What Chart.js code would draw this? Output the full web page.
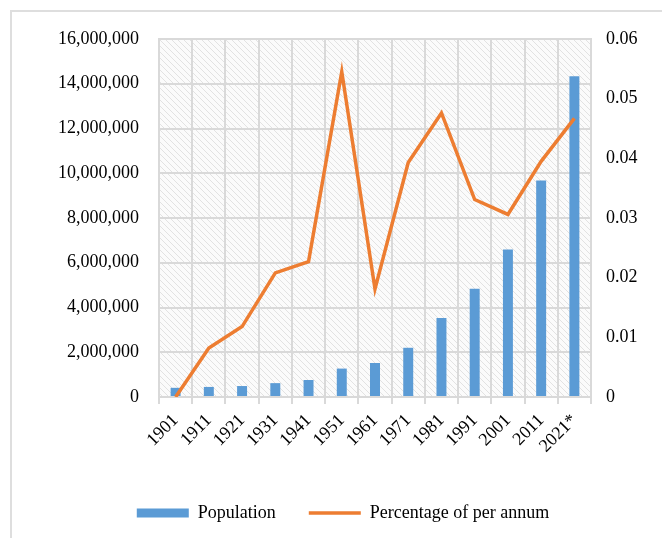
<!DOCTYPE html>
<html>
<head>
<meta charset="utf-8">
<script src="https://cdn.jsdelivr.net/npm/chart.js@4/dist/chart.umd.min.js"></script>
<style>
  html, body { margin: 0; padding: 0; background: #fff; overflow: hidden; }
  #wrap { position: relative; width: 662px; height: 538px; }
  #frame { position: absolute; left: 10px; top: 10px; width: 720px; height: 600px; border: 2px solid #dedede; }
  canvas { position: absolute; left: 0; top: 0; }
</style>
</head>
<body>
<div id="wrap">
  <div id="frame"></div>
  <canvas id="popChart" width="662" height="538"></canvas>
</div>
<script>
// Datos del gráfico
const years = ['1901', '1911', '1921', '1931', '1941', '1951', '1961', '1971', '1981', '1991', '2001', '2011', '2021*'];
const population = [410000, 450000, 490000, 620000, 760000, 1270000, 1520000, 2200000, 3530000, 4840000, 6590000, 9680000, 14340000];
const growthRate = [0, 0.0082, 0.0118, 0.0208, 0.0227, 0.0545, 0.0181, 0.0393, 0.0476, 0.0331, 0.0306, 0.0395, 0.0467];
const leftTicks = [0, 2000000, 4000000, 6000000, 8000000, 10000000, 12000000, 14000000, 16000000];
const rightTicks = [0, 0.01, 0.02, 0.03, 0.04, 0.05, 0.06];

const font = { family: '"Liberation Serif", "Times New Roman", serif', size: 18 };
const gridGrey = '#d9d9d9';

// Patrón rayado del fondo del área del gráfico
function makeHatch() {
    const c = document.createElement('canvas');
    c.width = 6; c.height = 6;
    const g = c.getContext('2d');
    g.fillStyle = '#fbfbfb';
    g.fillRect(0, 0, 6, 6);
    g.strokeStyle = '#e2e2e2';
    g.lineWidth = 1;
    g.beginPath();
    g.moveTo(-1, -1); g.lineTo(7, 7);
    g.moveTo(-4, 2); g.lineTo(4, 10);
    g.moveTo(2, -4); g.lineTo(10, 4);
    g.stroke();
    return g.createPattern(c, 'repeat');
}

const hatchPlugin = {
    id: 'hatch',
    beforeDraw(chart) {
        const a = chart.chartArea;
        const ctx = chart.ctx;
        ctx.save();
        ctx.fillStyle = makeHatch();
        ctx.fillRect(a.left, a.top, a.right - a.left, a.bottom - a.top);
        ctx.restore();
    }
};

// Desplazar un poco la leyenda hacia la derecha, como en el original
const legendShift = {
    id: 'legendShift',
    afterLayout(chart) {
        chart.legend.left += 12;
        chart.legend.right += 12;
    }
};

let ctx = document.getElementById('popChart').getContext('2d');
let chart = new Chart(ctx, {
    type: 'bar',
    data: {
        labels: years,
        datasets: [{
            label: 'Population',
            data: population,
            backgroundColor: '#5b9bd5',
            borderWidth: 0,
            categoryPercentage: 1,
            barPercentage: 0.3,
            yAxisID: 'y',
            order: 2,
            pointStyle: 'rect'
        }, {
            type: 'line',
            label: 'Percentage of per annum',
            data: growthRate,
            borderColor: '#ed7d31',
            backgroundColor: '#ed7d31',
            borderWidth: 3.5,
            pointRadius: 0,
            tension: 0,
            yAxisID: 'y1',
            order: 1,
            pointStyle: 'line'
        }]
    },
    options: {
        responsive: false,
        animation: false,
        layout: { padding: { top: 39, bottom: 6, left: 0, right: 0 } },
        plugins: {
            tooltip: { enabled: false },
            legend: {
                position: 'bottom',
                labels: {
                    font: font,
                    color: '#000',
                    usePointStyle: true,
                    pointStyleWidth: 52,
                    boxHeight: 9,
                    padding: 33,
                    sort: (a, b) => a.datasetIndex - b.datasetIndex
                }
            }
        },
        scales: {
            x: {
                grid: { color: gridGrey, lineWidth: 2, tickLength: 7, tickColor: gridGrey },
                border: { color: gridGrey, width: 2 },
                ticks: { font: font, color: '#000', minRotation: 45, maxRotation: 45, padding: 6, autoSkip: false },
                afterFit(scale) { scale.height = 74; }
            },
            y: {
                position: 'left',
                min: 0,
                max: 16000000,
                afterBuildTicks(scale) { scale.ticks = leftTicks.map(v => ({ value: v })); },
                grid: { color: gridGrey, lineWidth: 2, drawTicks: false },
                border: { color: gridGrey, width: 2 },
                ticks: {
                    font: font, color: '#000', padding: 20,
                    callback: v => v.toLocaleString('en-US')
                },
                afterFit(scale) { scale.width = 159; }
            },
            y1: {
                position: 'right',
                min: 0,
                max: 0.06,
                afterBuildTicks(scale) { scale.ticks = rightTicks.map(v => ({ value: v })); },
                grid: { display: false, drawTicks: false },
                border: { color: gridGrey, width: 2 },
                ticks: {
                    font: font, color: '#000', padding: 15,
                    callback: v => v === 0 ? '0' : v.toFixed(2)
                },
                afterFit(scale) { scale.width = 71; }
            }
        }
    },
    plugins: [hatchPlugin, legendShift]
});
</script>
</body>
</html>
